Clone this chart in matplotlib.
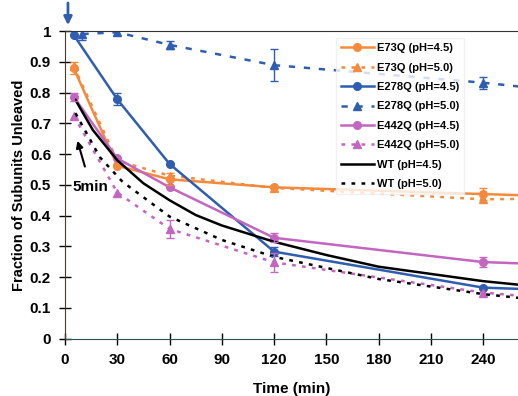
import matplotlib
matplotlib.use('Agg')
import matplotlib.pyplot as plt

plt.rcParams['font.family'] = ['Liberation Sans', 'DejaVu Sans']

# time points (min); last point sits past the right edge of the axes
t_e73q_45 = [5, 30, 60, 120, 240, 270]
e73q_45 = [0.879, 0.562, 0.518, 0.492, 0.470, 0.465]
t_e73q_50 = [5, 30, 60, 120, 240, 270]
e73q_50 = [0.885, 0.578, 0.530, 0.490, 0.453, 0.455]

t_e278q_45 = [5, 30, 60, 120, 240, 270]
e278q_45 = [0.987, 0.778, 0.568, 0.283, 0.166, 0.160]
t_e278q_50 = [10, 30, 60, 120, 240, 270]
e278q_50 = [0.990, 0.996, 0.955, 0.889, 0.832, 0.814]

t_e442q_45 = [5, 30, 60, 120, 240, 270]
e442q_45 = [0.786, 0.586, 0.492, 0.328, 0.249, 0.243]
t_e442q_50 = [5, 30, 60, 120, 240, 270]
e442q_50 = [0.725, 0.475, 0.357, 0.248, 0.150, 0.135]

t_wt_45 = [6, 16, 30, 45, 60, 75, 90, 120, 150, 180, 240, 270]
wt_45 = [0.776, 0.678, 0.580, 0.505, 0.450, 0.402, 0.368, 0.315, 0.272, 0.234, 0.187, 0.170]
t_wt_50 = [6, 20, 33, 60, 90, 120, 180, 240, 270]
wt_50 = [0.733, 0.590, 0.510, 0.397, 0.321, 0.266, 0.194, 0.145, 0.127]

# error bars: (time, value, err)
err_e73q_45 = ([5, 60, 240], [0.879, 0.518, 0.470], [0.02, 0.02, 0.02])
err_e278q_45 = ([30, 120], [0.778, 0.283], [0.02, 0.015])
err_e278q_50 = ([10, 60, 120, 240], [0.990, 0.955, 0.889, 0.832], [0.02, 0.012, 0.053, 0.02])
err_e442q_45 = ([5, 120, 240], [0.786, 0.328, 0.249], [0.012, 0.015, 0.015])
err_e442q_50 = ([60, 120], [0.357, 0.248], [0.03, 0.03])

orange = '#F58A3C'
blue = '#2F5DB0'
magenta = '#C266C0'

fig = plt.figure(figsize=(5.18, 3.96), dpi=100)
ax = fig.add_axes([0.1255, 0.1447, 0.8745, 0.777])

lw = 1.8
ax.plot(t_e73q_45, e73q_45, color=orange, lw=lw, marker='o', ms=5.5, label='E73Q (pH=4.5)')
ax.plot(t_e73q_50, e73q_50, color=orange, lw=lw, ls=(0, (1.5, 2.5)), marker='^', ms=5.5, label='E73Q (pH=5.0)')
ax.plot(t_e278q_45, e278q_45, color=blue, lw=lw, marker='o', ms=5.5, label='E278Q (pH=4.5)')
ax.plot(t_e278q_50, e278q_50, color=blue, lw=lw, ls=(0, (2.5, 3.5)), marker='^', ms=5.5, label='E278Q (pH=5.0)')
ax.plot(t_e442q_45, e442q_45, color=magenta, lw=lw, marker='o', ms=5.5, label='E442Q (pH=4.5)')
ax.plot(t_e442q_50, e442q_50, color=magenta, lw=lw, ls=(0, (1.5, 2.5)), marker='^', ms=5.5, label='E442Q (pH=5.0)')
ax.plot(t_wt_45, wt_45, color='black', lw=lw, label='WT (pH=4.5)')
ax.plot(t_wt_50, wt_50, color='black', lw=lw, ls=(0, (1.5, 2.5)), label='WT (pH=5.0)')

for (x, y, e), c in [(err_e73q_45, orange), (err_e278q_45, blue), (err_e278q_50, blue),
                     (err_e442q_45, magenta), (err_e442q_50, magenta)]:
    ax.errorbar(x, y, yerr=e, fmt='none', ecolor=c, elinewidth=1, capsize=3)

ax.set_xlim(0, 260)
ax.set_ylim(0, 1)
ax.set_xticks(range(0, 241, 30))
ax.set_yticks([i / 10 for i in range(11)])
ax.set_yticklabels(['0', '0.1', '0.2', '0.3', '0.4', '0.5', '0.6', '0.7', '0.8', '0.9', '1'])
ax.tick_params(direction='inout', length=8, width=1, labelsize=11, pad=6)
for lab in ax.get_xticklabels() + ax.get_yticklabels():
    lab.set_fontweight('bold')
ax.spines['right'].set_visible(False)
ax.spines['top'].set_color('#333333')
ax.spines['left'].set_color('#4a3a30')
ax.spines['bottom'].set_color('#2f4f4f')

ax.set_xlabel('Time (min)', fontsize=11, fontweight='bold', labelpad=11)
ax.set_ylabel('Fraction of Subunits Unleaved', fontsize=10.5, fontweight='bold', labelpad=3)

ax.annotate('', xy=(1.7, 1.01), xytext=(1.7, 1.10), annotation_clip=False,
            arrowprops=dict(arrowstyle='-|>', color=blue, lw=2, mutation_scale=12))
ax.annotate('5min', xy=(6.7, 0.652), xytext=(4.5, 0.493), fontsize=11, fontweight='bold',
            va='center', arrowprops=dict(arrowstyle='-|>', color='black', lw=1.5,
                                         mutation_scale=10, shrinkA=8))

leg = ax.legend(loc='upper left', bbox_to_anchor=(0.585, 0.995), fontsize=8, frameon=True,
                handlelength=3, handletextpad=0.3, labelspacing=0.85, borderpad=0.45,
                fancybox=False)
leg.get_frame().set_edgecolor('#eeeeee')
for txt in leg.get_texts():
    txt.set_fontweight('bold')

fig.savefig('out.png', dpi=100)
